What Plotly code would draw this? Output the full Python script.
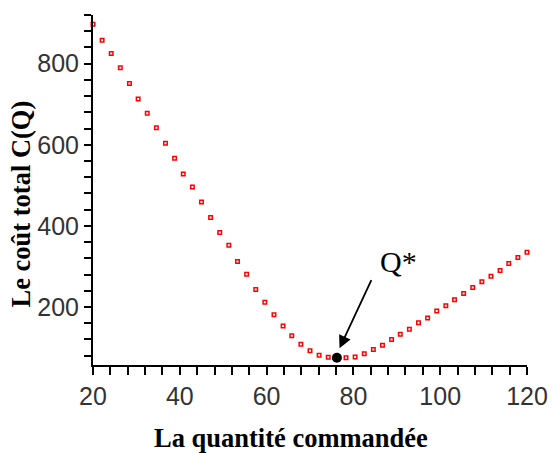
import plotly.graph_objects as go

# Data
quantities = [20.0, 22.1, 24.2, 26.3, 28.4, 30.4, 32.5, 34.6, 36.7, 38.8,
              40.8, 42.9, 45.0, 47.1, 49.2, 51.3, 53.3, 55.4, 57.5, 59.6,
              61.7, 63.8, 65.8, 67.9, 70.0, 72.1, 74.2, 76.3, 78.3, 80.4,
              82.5, 84.6, 86.7, 88.8, 90.8, 92.9, 95.0, 97.1, 99.2, 101.3,
              103.3, 105.4, 107.5, 109.6, 111.7, 113.8, 115.8, 117.9, 120.0]
total_cost = [897, 858, 825, 790, 751, 713, 678, 642, 604, 567,
              528, 496, 459, 421, 384, 352, 312, 281, 243, 212,
              181, 153, 129, 108, 92, 81, 76, 75, 75, 77,
              85, 95, 106, 120, 133, 145, 161, 173, 190, 203,
              218, 233, 248, 262, 276, 290, 307, 322, 335]
q_star_x = [76.2]
q_star_y = [75]

x_labels = [20, 40, 60, 80, 100, 120]
y_labels = [200, 400, 600, 800]
x_tick_step = 4
y_tick_step = 40

x_tickvals = list(range(20, 121, x_tick_step))
x_ticktext = [str(v) if v in x_labels else "" for v in x_tickvals]
y_tickvals = list(range(80, 921, y_tick_step))
y_ticktext = [str(v) if v in y_labels else "" for v in y_tickvals]

fig = go.Figure()
fig.add_trace(go.Scatter(
    x=quantities, y=total_cost, mode="markers",
    marker=dict(symbol="square-open", size=3.5, color="red",
                line=dict(width=1.5, color="red")),
    showlegend=False, hoverinfo="skip", cliponaxis=False))
fig.add_trace(go.Scatter(
    x=q_star_x, y=q_star_y, mode="markers",
    marker=dict(symbol="circle", size=10, color="black"),
    showlegend=False, hoverinfo="skip"))

tickfont = dict(family="Liberation Sans, Arial, sans-serif", size=25, color="#333333")
title_font = dict(family="Liberation Serif, Times New Roman, serif", size=26.5, color="black")

fig.update_layout(
    width=560, height=453,
    margin=dict(l=93, r=23, t=15, b=88, pad=0),
    plot_bgcolor="white", paper_bgcolor="white",
    xaxis=dict(range=[20, 120], tickmode="array", tickvals=x_tickvals,
               ticktext=x_ticktext,
               showline=True, linewidth=2, linecolor="black",
               ticks="outside", ticklen=8, tickwidth=2, tickcolor="black",
               showgrid=False, zeroline=False, tickfont=tickfont),
    yaxis=dict(range=[57, 920], tickmode="array", tickvals=y_tickvals,
               ticktext=y_ticktext,
               showline=True, linewidth=2, linecolor="black",
               ticks="outside", ticklen=7, tickwidth=2, tickcolor="black",
               showgrid=False, zeroline=False, tickfont=tickfont),
)

fig.add_annotation(text="<b>La quantité commandée</b>", xref="paper", yref="paper",
                   x=0.457, y=-0.208, xanchor="center", yanchor="middle",
                   showarrow=False, font=title_font)
fig.add_annotation(text="<b>Le coût total C(Q)</b>", xref="paper", yref="paper",
                   x=-0.167, y=0.46, xanchor="center", yanchor="middle",
                   textangle=-90, showarrow=False, font=title_font)
fig.add_annotation(text="Q*", xref="x", yref="y", x=90.5, y=312,
                   xanchor="center", yanchor="middle", showarrow=False,
                   font=dict(family="Liberation Serif, Times New Roman, serif",
                             size=30, color="black"))
fig.add_annotation(text="", xref="x", yref="y", x=76.8, y=98,
                   axref="x", ayref="y", ax=84.3, ay=270,
                   showarrow=True, arrowhead=2, arrowsize=1.4, arrowwidth=1.8,
                   arrowcolor="black", standoff=0)

fig.write_html("out.html")
